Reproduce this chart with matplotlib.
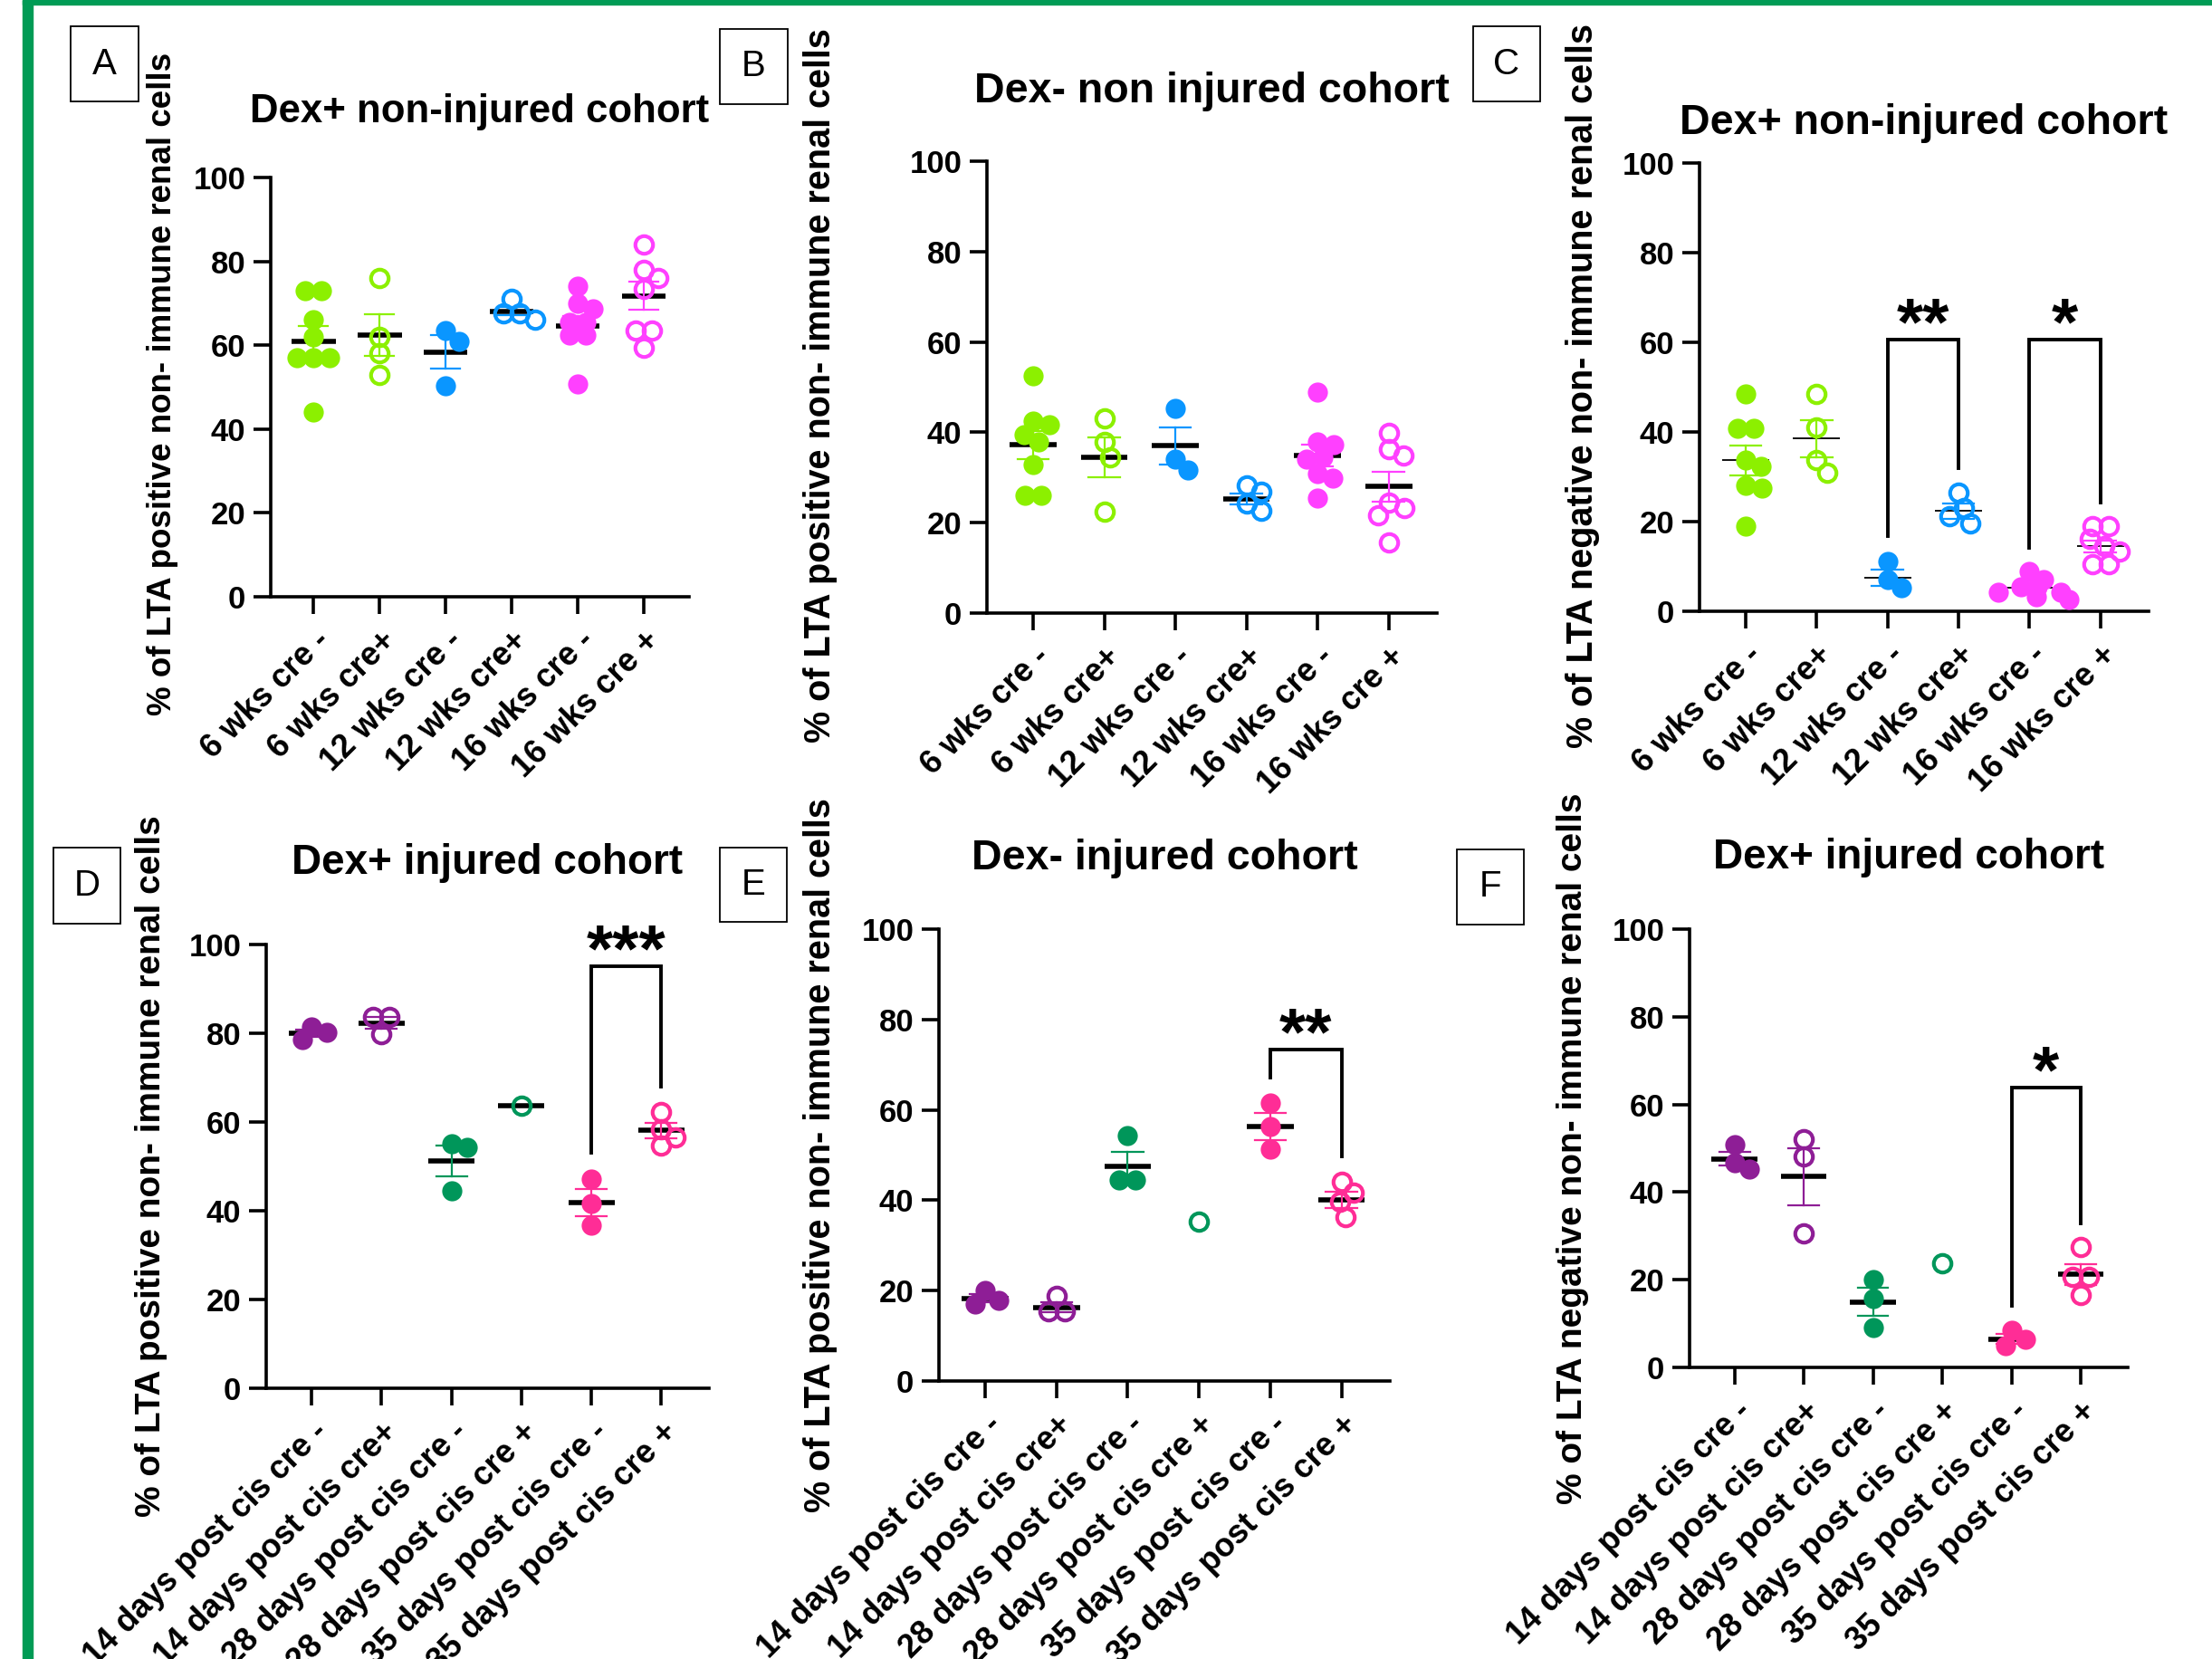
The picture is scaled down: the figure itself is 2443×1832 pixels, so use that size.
import matplotlib
matplotlib.use('Agg')
import matplotlib.pyplot as plt
from matplotlib.patches import Rectangle
import numpy as np

plt.rcParams['font.family'] = ['Liberation Sans', 'DejaVu Sans']

W, H = 2443, 1832

# ---------------- data ----------------
labels_top = ['6 wks cre -', '6 wks cre+', '12 wks cre -', '12 wks cre+', '16 wks cre -', '16 wks cre +']
labels_bottom = ['14 days post cis cre -', '14 days post cis cre+', '28 days post cis cre -',
                 '28 days post cis cre +', '35 days post cis cre -', '35 days post cis cre +']

colors_top = ['#8CF000', '#8CF000', '#0A96FF', '#0A96FF', '#FF40FF', '#FF40FF']
colors_bottom = ['#8E1E96', '#8E1E96', '#00965A', '#00965A', '#FF2D96', '#FF2D96']
filled = [True, False, True, False, True, False]

# panel A
a_vals = [[73, 73, 66, 62, 57, 57, 57, 44],
          [76, 62, 58, 53],
          [63.4, 61, 50.3],
          [71, 67.6, 67.6, 66],
          [74, 70, 68.7, 65.5, 65.5, 62.4, 62.4, 50.7],
          [84, 78, 76, 73.5, 63.6, 63.6, 59.4]]
a_mean = [61, 62.4, 58.4, 68.1, 64.5, 71.8]
a_sem = [3.5, 5.0, 4.0, 1.0, 2.5, 3.4]

# panel B
b_vals = [[52.5, 42.4, 41.7, 39.4, 37.9, 32.8, 26.1, 26.1],
          [43, 37.9, 34.5, 22.5],
          [45.2, 34, 31.7],
          [28.3, 26.9, 24.2, 22.7],
          [48.8, 37.9, 37.3, 34.5, 34, 30.9, 29.8, 25.5],
          [39.9, 36.2, 34.8, 24.4, 23.3, 21.6, 15.6]]
b_mean = [37.2, 34.5, 37, 25.2, 34.9, 28]
b_sem = [3.1, 4.4, 4.1, 1.2, 2.4, 3.3]

# panel C
c_vals = [[48.5, 40.9, 40.9, 33.7, 32.3, 28.1, 27.5, 19],
          [48.5, 41.1, 33.7, 30.9],
          [11.1, 7.1, 5.2],
          [26.4, 23, 21.3, 19.6],
          [8.8, 7.1, 5.4, 5.4, 4.3, 4.3, 3.2, 2.6],
          [19, 19, 16.2, 14.5, 13.4, 10.5, 10.5]]
c_mean = [33.7, 38.5, 7.5, 22.4, 5.2, 14.5]
c_sem = [3.3, 4.1, 1.8, 1.7, 0.8, 1.3]

# panel D
d_vals = [[81.5, 80.3, 78.5],
          [83.7, 83.7, 79.7],
          [55.2, 54.3, 44.4],
          [63.6],
          [47.1, 41.6, 36.8],
          [62.3, 58.3, 56.5, 54.6]]
d_mean = [80, 82.3, 51.2, 63.6, 41.8, 58.1]
d_sem = [0.9, 1.3, 3.5, np.nan, 3.1, 1.7]

# panel E
e_vals = [[20, 17.9, 17.1],
          [18.9, 15.5, 15.5],
          [54.4, 44.5, 44.5],
          [35.2],
          [61.5, 56.3, 51.4],
          [44.1, 41.7, 39.6, 36.2]]
e_mean = [18.3, 16.3, 47.4, np.nan, 56.3, 40.1]
e_sem = [0.9, 1.1, 3.4, np.nan, 3.0, 1.8]

# panel F
f_vals = [[50.8, 46.7, 45.2],
          [52.1, 48.2, 30.6],
          [20.1, 15.6, 9.0],
          [23.7],
          [8.4, 6.5, 4.9],
          [27.5, 20.7, 20.7, 16.6]]
f_mean = [47.6, 43.5, 14.9, np.nan, 6.5, 21.2]
f_sem = [1.6, 6.6, 3.2, np.nan, 1.2, 2.4]

# brackets: (left group, right group, left leg bottom, top, right leg bottom, stars)
c_brackets = [(2, 3, 16.8, 60.6, 32.0, '**'), (4, 5, 14.2, 60.6, 24.3, '*')]
d_brackets = [(4, 5, 53.0, 95.2, 67.9, '***')]
e_brackets = [(4, 5, 67.2, 73.3, 49.6, '**')]
f_brackets = [(4, 5, 14.0, 63.9, 32.9, '*')]

titles = ['Dex+ non-injured cohort', 'Dex- non injured cohort', 'Dex+ non-injured cohort',
          'Dex+ injured cohort', 'Dex- injured cohort', 'Dex+ injured cohort']
ylabel_pos = '% of LTA positive non- immune renal cells'
ylabel_neg = '% of LTA negative non- immune renal cells'

# ---------------- layout (pixels) ----------------
panels = [
    dict(letter='A', box=(78, 29, 153, 112), ax=(299, 196, 761, 659), title=(530, 124, 31.5),
         ylab=(180, 424, 26.5), text=ylabel_pos, vals=a_vals, mean=a_mean, sem=a_sem,
         labels=labels_top, colors=colors_top, brackets=[], mlw=4),
    dict(letter='B', box=(795, 32, 870, 115), ax=(1090, 178, 1587, 677), title=(1338, 101, 33.5),
         ylab=(906, 426, 28.5), text=ylabel_pos, vals=b_vals, mean=b_mean, sem=b_sem,
         labels=labels_top, colors=colors_top, brackets=[], mlw=4),
    dict(letter='C', box=(1627, 29, 1701, 112), ax=(1877, 180, 2373, 675), title=(2125, 136, 33.5),
         ylab=(1748, 426, 28.5), text=ylabel_neg, vals=c_vals, mean=c_mean, sem=c_sem,
         labels=labels_top, colors=colors_top, brackets=c_brackets, mlw=1.3),
    dict(letter='D', box=(59, 936, 133, 1020), ax=(294, 1043, 783, 1533), title=(538, 953, 33),
         ylab=(167, 1288, 28), text=ylabel_pos, vals=d_vals, mean=d_mean, sem=d_sem,
         labels=labels_bottom, colors=colors_bottom, brackets=d_brackets, mlw=4),
    dict(letter='E', box=(795, 936, 869, 1018), ax=(1037, 1026, 1535, 1525), title=(1286, 948, 33.5),
         ylab=(906, 1276, 28.5), text=ylabel_pos, vals=e_vals, mean=e_mean, sem=e_sem,
         labels=labels_bottom, colors=colors_bottom, brackets=e_brackets, mlw=4),
    dict(letter='F', box=(1609, 938, 1683, 1021), ax=(1866, 1026, 2350, 1510), title=(2108, 947, 33),
         ylab=(1737, 1268, 28), text=ylabel_neg, vals=f_vals, mean=f_mean, sem=f_sem,
         labels=labels_bottom, colors=colors_bottom, brackets=f_brackets, mlw=4),
]

XLIM = (-0.65, 5.68)


def swarm(vals, px_cat, px_y, dist=18.0):
    # simple beeswarm in pixel space, points may overlap a little like in Prism
    vals = np.asarray(vals, dtype=float)
    offs = np.zeros(len(vals))
    placed = []
    for i in np.argsort(-vals, kind='stable'):
        y = vals[i] * px_y
        bad = []
        for xp, yp in placed:
            dy = abs(y - yp)
            if dy < dist:
                h = np.sqrt(dist ** 2 - dy ** 2)
                bad.append((xp - h, xp + h))
        cands = [0.0] + [a for a, b in bad] + [b for a, b in bad]
        cands.sort(key=lambda c: (round(abs(c), 6), -c))
        x = 0.0
        for c in cands:
            if all(not (a + 1e-6 < c < b - 1e-6) for a, b in bad):
                x = c
                break
        placed.append((x, y))
        offs[i] = x
    # ties side by side around the tick
    for v in np.unique(vals):
        idx = np.where(np.isclose(vals, v))[0]
        if len(idx) > 1:
            offs[idx] = offs[idx] - offs[idx].mean()
    return offs / px_cat


fig = plt.figure(figsize=(W / 100, H / 100), dpi=100)

# green frame
fig.patches.append(Rectangle((25 / W, 0), 11 / W, 1, transform=fig.transFigure,
                             color='#009B55', zorder=0))
fig.patches.append(Rectangle((25 / W, 1 - 5 / H), 1, 5 / H, transform=fig.transFigure,
                             color='#009B55', zorder=0))

for i, p in enumerate(panels):
    l, t, r, b = p['ax']
    ax = fig.add_axes([l / W, 1 - b / H, (r - l) / W, (b - t) / H])
    px_cat = (r - l) / (XLIM[1] - XLIM[0])
    px_y = (b - t) / 100.0

    for g in range(6):
        col = p['colors'][g]
        v = np.array(p['vals'][g], dtype=float)
        m = p['mean'][g]
        s = p['sem'][g]
        if not np.isnan(m):
            ax.plot([g - 0.33, g + 0.33], [m, m], color='black', lw=p['mlw'],
                    solid_capstyle='butt', zorder=2)
        if not np.isnan(s):
            ax.plot([g, g], [m - s, m + s], color=col, lw=1.6, zorder=3)
            for yy in (m - s, m + s):
                ax.plot([g - 0.22, g + 0.22], [yy, yy], color=col, lw=1.6, zorder=3)
        xs = g + swarm(v, px_cat, px_y)
        if filled[g]:
            ax.plot(xs, v, 'o', ms=16, mfc=col, mec=col, mew=0, zorder=4)
        else:
            ax.plot(xs, v, 'o', ms=14, mfc='none', mec=col, mew=3, zorder=4)

    for (g1, g2, yb1, yt, yb2, stars) in p['brackets']:
        ax.plot([g1, g1, g2, g2], [yb1, yt, yt, yb2], color='black', lw=2.8,
                solid_joinstyle='miter', clip_on=False, zorder=5)
        ax.annotate(stars, ((g1 + g2) / 2, yt), xytext=(0, -4), textcoords='offset points',
                    ha='center', va='baseline', fontsize=54, fontweight='bold',
                    annotation_clip=False)

    ax.set_xlim(*XLIM)
    ax.set_ylim(0, 100)
    ax.set_yticks([0, 20, 40, 60, 80, 100])
    ax.set_xticks(range(6))
    ax.set_xticklabels(p['labels'], rotation=45, ha='right', va='top',
                       rotation_mode='anchor', fontsize=26, fontweight='bold')
    for lab in ax.get_yticklabels():
        lab.set_fontsize(25)
        lab.set_fontweight('bold')
    ax.spines['top'].set_visible(False)
    ax.spines['right'].set_visible(False)
    ax.spines['left'].set_linewidth(2.6)
    ax.spines['bottom'].set_linewidth(2.6)
    ax.tick_params(axis='both', width=2.6, length=14, color='black')
    ax.tick_params(axis='y', pad=6)
    ax.tick_params(axis='x', pad=8)
    ax.patch.set_alpha(0)

    # title and y label
    tx, ty, tsz = p['title']
    fig.text(tx / W, 1 - ty / H, titles[i], ha='center', va='center', fontsize=tsz,
             fontweight='bold')
    yx, yy, ysz = p['ylab']
    fig.text(yx / W, 1 - yy / H, p['text'], rotation=90, ha='center', va='center',
             fontsize=ysz, fontweight='bold')

    # letter box
    bx0, by0, bx1, by1 = p['box']
    fig.patches.append(Rectangle((bx0 / W, 1 - by1 / H), (bx1 - bx0) / W, (by1 - by0) / H,
                                 transform=fig.transFigure, fill=False, ec='black', lw=1.3))
    fig.text((bx0 + bx1) / 2 / W, 1 - (by0 + by1) / 2 / H, p['letter'], ha='center',
             va='center', fontsize=29)

fig.savefig('out.png', dpi=100)
